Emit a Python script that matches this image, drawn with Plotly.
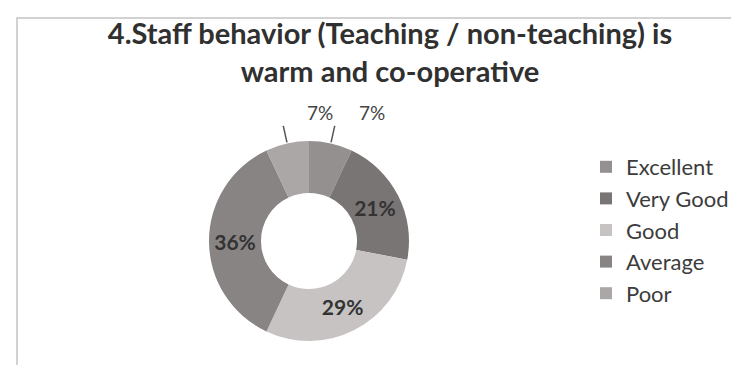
import math
import plotly.graph_objects as go

categories = ["Excellent", "Very Good", "Good", "Average", "Poor"]
values = [7, 21, 29, 36, 7]
colors = ["#959090", "#7a7575", "#c7c3c3", "#898484", "#aca7a7"]
text_positions = ["none", "inside", "inside", "inside", "none"]
title_text = "4.Staff behavior (Teaching / non-teaching) is<br>warm and co-operative"

W, H = 739, 365
dom_x = [200, 402]
dom_y = [133, 333]

fig = go.Figure(go.Pie(
    labels=categories,
    values=values,
    hole=0.48,
    sort=False,
    direction="clockwise",
    rotation=0,
    marker=dict(colors=colors, line=dict(width=0)),
    textinfo="percent",
    texttemplate="%{percent:.0%}",
    textposition=text_positions,
    insidetextorientation="horizontal",
    textfont=dict(family="Lato", size=21, color="#333333", weight="bold"),
    domain=dict(x=[dom_x[0] / W, dom_x[1] / W], y=[1 - dom_y[1] / H, 1 - dom_y[0] / H]),
    showlegend=True,
))

# leader lines + labels for slices whose labels sit outside the ring
cx = (dom_x[0] + dom_x[1]) / 2
cy = (dom_y[0] + dom_y[1]) / 2
R = min(dom_x[1] - dom_x[0], dom_y[1] - dom_y[0]) / 2
total = sum(values)
shapes = [dict(type="rect", xref="paper", yref="paper", x0=9 / W, x1=1.2, y0=-0.2, y1=1 - 10 / H,
               line=dict(color="#c4c4c4", width=1.5))]
annotations = []
cum = 0
for v, pos in zip(values, text_positions):
    mid = (cum + v / 2) / total
    cum += v
    if pos != "none":
        continue
    th = 2 * math.pi * mid
    dx, dy = math.sin(th), -math.cos(th)
    x1, y1 = cx + (R + 1) * dx, cy + (R + 1) * dy
    x2, y2 = cx + (R + 18) * dx, cy + (R + 18) * dy
    shapes.append(dict(type="line", xref="paper", yref="paper",
                       x0=x1 / W, y0=1 - y1 / H, x1=x2 / W, y1=1 - y2 / H,
                       line=dict(color="#555555", width=1.5)))
    annotations.append(dict(xref="paper", yref="paper", x=x2 / W, y=1 - y2 / H,
                            text=f"{round(100 * v / total)}%", showarrow=False,
                            xanchor="center", yanchor="middle", xshift=37, yshift=13,
                            font=dict(family="Lato", size=19, color="#444444")))

fig.update_layout(
    width=W, height=H,
    margin=dict(l=0, r=0, t=0, b=0),
    paper_bgcolor="white",
    plot_bgcolor="white",
    title=dict(text=title_text, x=382 / W, xanchor="center", y=1 - 36 / H, yanchor="top",
               font=dict(family="Lato", size=29, color="#303030", weight="bold")),
    legend=dict(x=578 / W, y=1 - 138 / H, xanchor="left", yanchor="top",
                font=dict(family="Lato", size=22, color="#3c3c3c"),
                itemwidth=30, tracegroupgap=0, bgcolor="rgba(0,0,0,0)"),
    shapes=shapes,
    annotations=annotations,
)

fig.write_html("out.html")
